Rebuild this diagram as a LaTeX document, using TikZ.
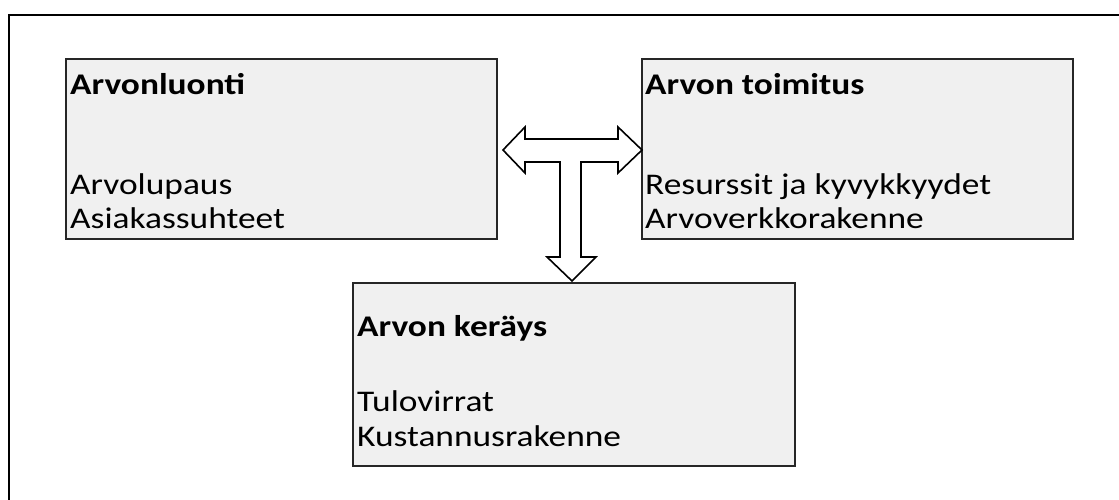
\documentclass[tikz,border=0pt]{standalone}
\usepackage{fontspec}
\setmainfont{Carlito}[FakeStretch=1.18]
\begin{document}
\begin{tikzpicture}[x=1pt,y=-1pt,
  box/.style={draw=black!85,line width=1.4pt,fill=black!6,inner sep=0pt},
  ttl/.style={anchor=base west,inner sep=0pt,font=\fontsize{30}{34}\selectfont\bfseries},
  itm/.style={anchor=base west,inner sep=0pt,font=\fontsize{30}{34}\selectfont},
  bigarrow/.style={draw=black,line width=1.6pt,fill=white,line join=miter}]
\useasboundingbox (0,0) rectangle (1119,500);
\fill[white] (0,0) rectangle (1119,500);
% outer frame (cropped at right and bottom)
\draw[line width=2.6pt] (1125,15) -- (9,15) -- (9,505);
% boxes
\path[box] (66,59) rectangle (497,239) coordinate (b1);
\path[box] (642,59) rectangle (1073,239) coordinate (b2);
\path[box] (353,283) rectangle (795,466) coordinate (b3);
% texts
\node[ttl] (t1) at (70,95) {Arvonluonti};
\node[itm] (a1) at (70,194) {Arvolupaus};
\node[itm] (a2) at (70,228) {Asiakassuhteet};
\node[ttl] (t2) at (645,95) {Arvon toimitus};
\node[itm] (c1) at (645,194) {Resurssit ja kyvykkyydet};
\node[itm] (c2) at (645,228) {Arvoverkkorakenne};
\node[ttl] (t3) at (357,336) {Arvon keräys};
\node[itm] (d1) at (357,411) {Tulovirrat};
\node[itm] (d2) at (357,446) {Kustannusrakenne};
% T-shaped block arrow
\draw[bigarrow] (503,150) -- (525,127) -- (525,139) -- (618,139) -- (618,127)
  -- (642,150) -- (618,173) -- (618,162) -- (581,162) -- (581,257) -- (596,257)
  -- (572,281) -- (547,257) -- (560,257) -- (560,162) -- (525,162) -- (525,173) -- cycle;
\end{tikzpicture}
\end{document}
